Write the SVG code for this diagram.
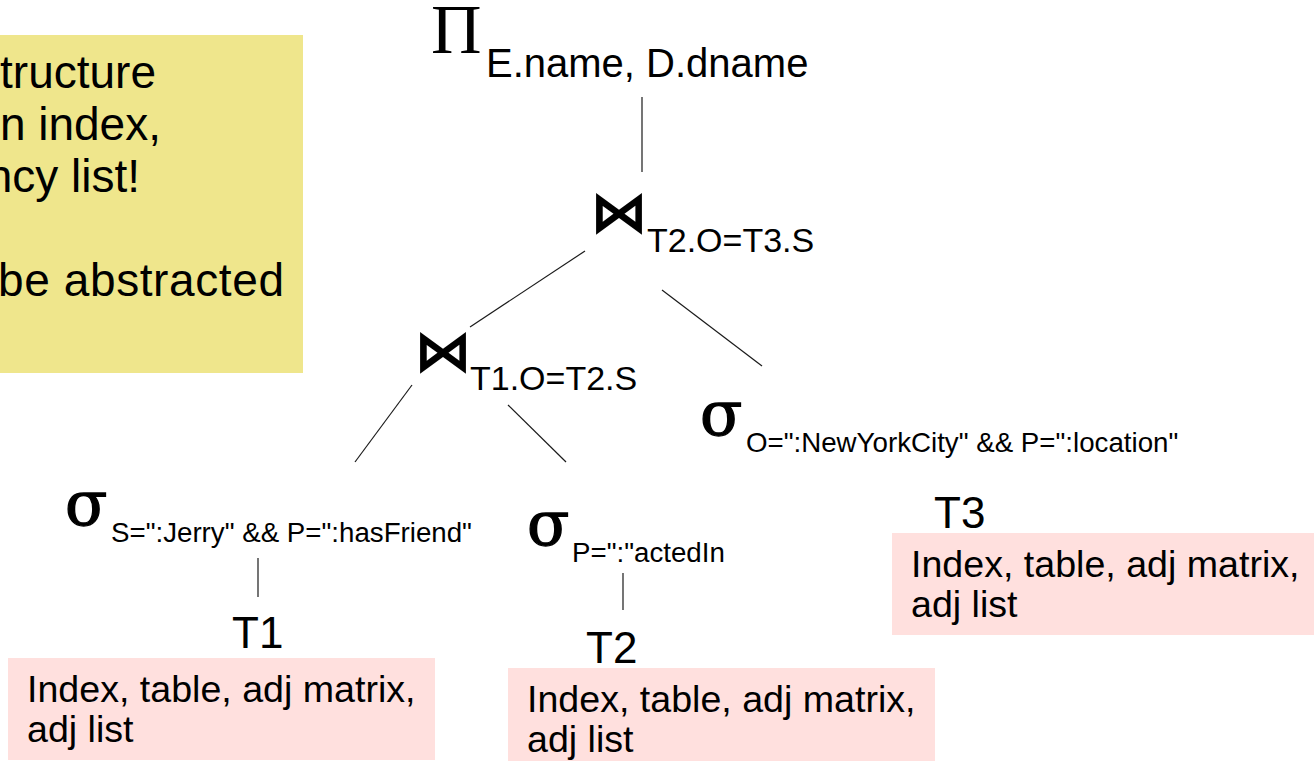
<svg xmlns="http://www.w3.org/2000/svg" width="1314" height="761" viewBox="0 0 1314 761">
  <style>
    .sans { font-family: "Liberation Sans", Arial, sans-serif; fill: #000; }
    .serif { font-family: "Liberation Serif", "Times New Roman", serif; fill: #000; }
    .sel { font-family: "DejaVu Serif", "Liberation Serif", serif; fill: #000; stroke: #000; stroke-width: 1.3; }
    .op { font-family: "DejaVu Sans", sans-serif; font-weight: bold; fill: #000; }
    .note { fill: #efe68c; }
    .store { fill: #ffe0de; }
    .edge { stroke: #1a1a1a; stroke-width: 1.2; fill: none; }
  </style>
  <defs>
    <clipPath id="noteClip">
      <rect x="0" y="35" width="303" height="338"/>
    </clipPath>
  </defs>

  <rect width="1314" height="761" fill="#ffffff"/>

  <!-- side note, partly outside the frame on the left -->
  <g id="note">
    <rect class="note" x="-2" y="35" width="305" height="338"/>
    <g clip-path="url(#noteClip)" class="sans" font-size="46" text-anchor="end">
      <text x="156" y="88">tructure</text>
      <text x="161" y="140">n index,</text>
      <text x="140" y="192">ncy list!</text>
      <text x="284" y="296" textLength="286" lengthAdjust="spacing">be abstracted</text>
    </g>
  </g>

  <!-- tree edges -->
  <g id="connectors">
    <line class="edge" x1="642" y1="97" x2="642" y2="172"/>
    <line class="edge" x1="585" y1="251" x2="470" y2="327"/>
    <line class="edge" x1="662" y1="290" x2="762" y2="366"/>
    <line class="edge" x1="412" y1="385" x2="355" y2="462"/>
    <line class="edge" x1="508" y1="405" x2="566" y2="462"/>
    <line class="edge" x1="258" y1="558" x2="258" y2="597"/>
    <line class="edge" x1="623" y1="573" x2="623" y2="610"/>
  </g>

  <!-- projection -->
  <g id="project">
    <text class="serif" x="431" y="53" font-size="70">Π</text>
    <text class="sans" x="486" y="77" font-size="40">E.name, D.dname</text>
  </g>

  <!-- upper join -->
  <g id="join-top">
    <text class="op" x="590" y="232" font-size="58">⋈</text>
    <text class="sans" x="647" y="252" font-size="34">T2.O=T3.S</text>
  </g>

  <!-- lower join -->
  <g id="join-low">
    <text class="op" x="414" y="371" font-size="58">⋈</text>
    <text class="sans" x="470" y="390" font-size="34">T1.O=T2.S</text>
  </g>

  <!-- selections -->
  <g id="select-t1">
    <text class="sel" x="65" y="525" font-size="62">σ</text>
    <text class="sans" x="111" y="542" font-size="27.7">S=":Jerry" &amp;&amp; P=":hasFriend"</text>
  </g>
  <g id="select-t2">
    <text class="sel" x="527" y="545" font-size="62">σ</text>
    <text class="sans" x="572" y="562" font-size="27.7">P=":"actedIn</text>
  </g>
  <g id="select-t3">
    <text class="sel" x="700" y="435" font-size="62">σ</text>
    <text class="sans" x="746" y="452" font-size="27.7">O=":NewYorkCity" &amp;&amp; P=":location"</text>
  </g>

  <!-- base tables with storage options -->
  <g id="table-t1">
    <text class="sans" x="232" y="648" font-size="44">T1</text>
    <rect class="store" x="8" y="658" width="427" height="102"/>
    <text class="sans" x="27" y="702" font-size="37.6">Index, table, adj matrix,</text>
    <text class="sans" x="27" y="742" font-size="37.6">adj list</text>
  </g>
  <g id="table-t2">
    <text class="sans" x="586" y="663" font-size="44">T2</text>
    <rect class="store" x="508" y="668" width="427" height="93"/>
    <text class="sans" x="527" y="712" font-size="37.6">Index, table, adj matrix,</text>
    <text class="sans" x="527" y="752" font-size="37.6">adj list</text>
  </g>
  <g id="table-t3">
    <text class="sans" x="934" y="528" font-size="44">T3</text>
    <rect class="store" x="892" y="533" width="422" height="102"/>
    <text class="sans" x="911" y="577" font-size="37.6">Index, table, adj matrix,</text>
    <text class="sans" x="911" y="617" font-size="37.6">adj list</text>
  </g>
</svg>
